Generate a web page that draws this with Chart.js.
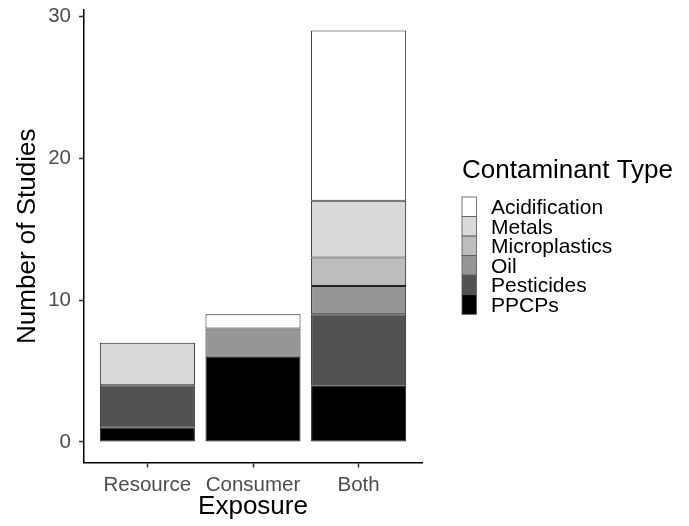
<!DOCTYPE html>
<html>
<head>
<meta charset="utf-8">
<script src="https://cdn.jsdelivr.net/npm/chart.js@4"></script>
<style>
  html, body { margin: 0; padding: 0; background: #fff; }
  #wrap { width: 689px; height: 526px; }
</style>
</head>
<body>
<div id="wrap"><canvas id="chart"></canvas></div>
<script>
// data (stack order bottom to top)
const categories = ['Resource', 'Consumer', 'Both'];
const ppcps = [1, 6, 4];
const pesticides = [3, null, 5];
const oil = [null, 2, 2];
const microplastics = [null, null, 2];
const metals = [3, null, 4];
const acidification = [null, 1, 12];
const yTicks = [0, 10, 20, 30];

const FONT = '"Liberation Sans", Arial, Helvetica, sans-serif';

const series = [
    { label: 'PPCPs', values: ppcps, color: '#000000' },
    { label: 'Pesticides', values: pesticides, color: '#525252' },
    { label: 'Oil', values: oil, color: '#969696' },
    { label: 'Microplastics', values: microplastics, color: '#bdbdbd' },
    { label: 'Metals', values: metals, color: '#d9d9d9' },
    { label: 'Acidification', values: acidification, color: '#ffffff' }
];

// ggplot style legend on the right, top entry = top of stack
const legendPlugin = {
    id: 'ggLegend',
    afterDraw(chart) {
        const ctx = chart.ctx;
        const x = 462, top = 197, rowH = 19.55, keyW = 14.5;
        ctx.save();
        ctx.fillStyle = '#000';
        ctx.font = '26px ' + FONT;
        ctx.textAlign = 'left';
        ctx.textBaseline = 'alphabetic';
        ctx.fillText('Contaminant Type', x, 178);
        const items = chart.data.datasets.slice().reverse();
        items.forEach((ds, i) => {
            const y = top + i * rowH;
            ctx.fillStyle = ds.backgroundColor;
            ctx.fillRect(x, y, keyW, rowH);
            ctx.strokeStyle = '#555';
            ctx.lineWidth = 0.8;
            ctx.strokeRect(x, y, keyW, rowH);
            ctx.fillStyle = '#000';
            ctx.font = '21px ' + FONT;
            ctx.fillText(ds.label, 491, y + rowH / 2 + 7.5);
        });
        ctx.restore();
    }
};

// keep the plot panel exactly where ggplot put it
const noScalePadding = scale => {
    scale.paddingTop = 0;
    scale.paddingBottom = 0;
    scale.paddingLeft = 0;
    scale.paddingRight = 0;
};

const ctx = document.getElementById('chart').getContext('2d');
const chart = new Chart(ctx, {
    type: 'bar',
    data: {
        datasets: series.map(s => ({
            label: s.label,
            data: s.values.map((v, i) => ({ x: i + 1, y: v })),
            backgroundColor: s.color,
            borderColor: '#222',
            borderWidth: 1,
            borderSkipped: false,
            categoryPercentage: 1,
            barPercentage: 0.9
        }))
    },
    options: {
        responsive: true,
        maintainAspectRatio: false,
        animation: false,
        layout: { padding: { left: 0, right: 267, top: 10, bottom: 0 } },
        plugins: {
            legend: { display: false },
            tooltip: { enabled: false }
        },
        scales: {
            x: {
                type: 'linear',
                stacked: true,
                offset: false,
                min: 0.4,
                max: 3.6,
                afterBuildTicks: scale => {
                    scale.ticks = categories.map((c, i) => ({ value: i + 1 }));
                },
                afterFit: scale => {
                    scale.height = 63.5;
                    noScalePadding(scale);
                },
                ticks: {
                    callback: v => categories[v - 1],
                    color: '#4d4d4d',
                    font: { family: FONT, size: 20.5 },
                    padding: 6,
                    maxRotation: 0,
                    autoSkip: false
                },
                grid: {
                    offset: false,
                    drawOnChartArea: false,
                    drawTicks: true,
                    tickLength: 5,
                    tickWidth: 1.5,
                    tickColor: '#333'
                },
                border: { display: true, color: '#000', width: 1.5 },
                title: {
                    display: true,
                    text: 'Exposure',
                    color: '#000',
                    font: { family: FONT, size: 26, lineHeight: 1.2 },
                    padding: { top: 0, bottom: 3.5 }
                }
            },
            y: {
                stacked: true,
                min: -1.45,
                max: 30.45,
                afterBuildTicks: scale => {
                    scale.ticks = yTicks.map(v => ({ value: v }));
                },
                afterFit: scale => {
                    scale.width = 84;
                    noScalePadding(scale);
                },
                ticks: {
                    color: '#4d4d4d',
                    font: { family: FONT, size: 20.5 },
                    padding: 8
                },
                grid: {
                    drawOnChartArea: false,
                    drawTicks: true,
                    tickLength: 5,
                    tickWidth: 1.5,
                    tickColor: '#333'
                },
                border: { display: true, color: '#000', width: 1.5 },
                title: {
                    display: true,
                    text: 'Number of Studies',
                    color: '#000',
                    font: { family: FONT, size: 26, lineHeight: 1.2 },
                    padding: { top: 12.5, bottom: 0 }
                }
            }
        }
    },
    plugins: [legendPlugin]
});
</script>
</body>
</html>
